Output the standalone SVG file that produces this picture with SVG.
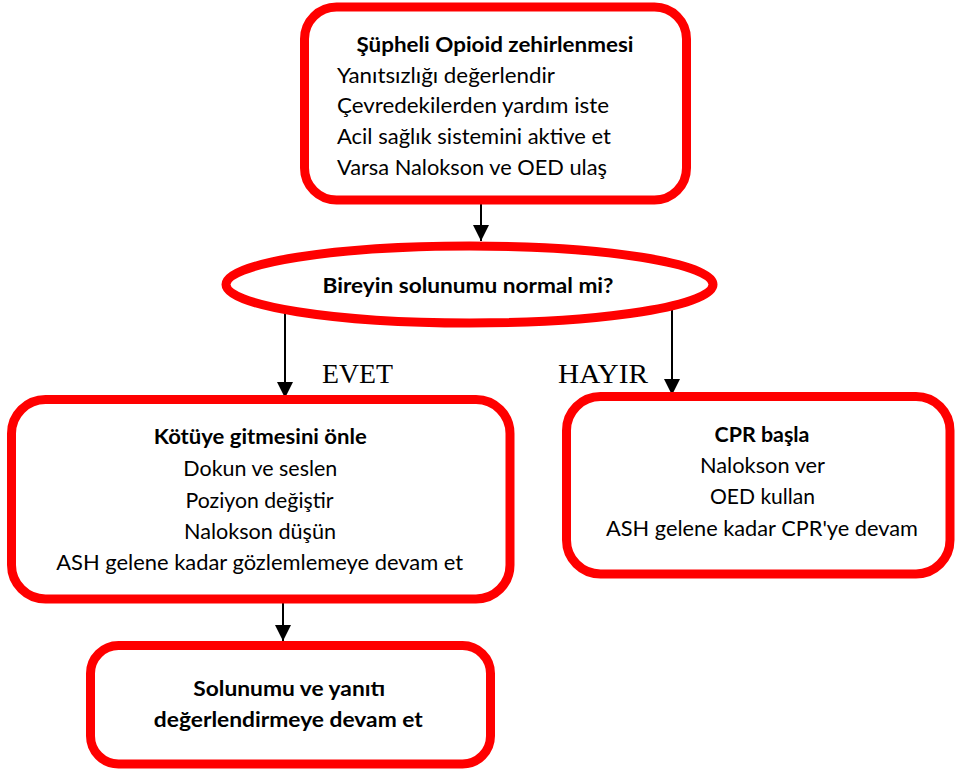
<svg xmlns="http://www.w3.org/2000/svg" width="955" height="769" viewBox="0 0 955 769">
<defs>
<style>
.box{fill:#fff;stroke:#ff0000;stroke-width:9}
.t{font-family:Lato,"Liberation Sans",Arial,sans-serif;font-size:21px;fill:#000}
.b{font-weight:bold}
.c{text-anchor:middle}
.lbl{font-family:"Liberation Serif","Times New Roman",serif;font-size:27px;fill:#000}
.ln{stroke:#000;stroke-width:2;fill:none}
</style>
<marker id="ah" markerUnits="userSpaceOnUse" markerWidth="16" markerHeight="16" refX="16" refY="8" orient="auto" viewBox="0 0 16 16">
<path d="M0,0 L16,8 L0,16 z" fill="#000"/>
</marker>
</defs>
<g id="connectors">
<line class="ln" x1="481" y1="204" x2="481" y2="241" marker-end="url(#ah)"/>
<line class="ln" x1="285" y1="308" x2="285" y2="398" marker-end="url(#ah)"/>
<line class="ln" x1="672" y1="306" x2="672" y2="395" marker-end="url(#ah)"/>
<line class="ln" x1="283" y1="603" x2="283" y2="641" marker-end="url(#ah)"/>
<text class="lbl" x="322" y="383" textLength="71" lengthAdjust="spacingAndGlyphs">EVET</text>
<text class="lbl" x="558" y="383" textLength="90" lengthAdjust="spacingAndGlyphs">HAYIR</text>
</g>
<g id="start">
<rect class="box" x="304.5" y="7" width="382" height="193" rx="32"/>
<text class="t b c" x="495" y="52" textLength="277" lengthAdjust="spacingAndGlyphs">Şüpheli Opioid zehirlenmesi</text>
<text class="t" x="337" y="83" textLength="218" lengthAdjust="spacingAndGlyphs">Yanıtsızlığı değerlendir</text>
<text class="t" x="337" y="113" textLength="272" lengthAdjust="spacingAndGlyphs">Çevredekilerden yardım iste</text>
<text class="t" x="337" y="144" textLength="274" lengthAdjust="spacingAndGlyphs">Acil sağlık sistemini aktive et</text>
<text class="t" x="337" y="175" textLength="270" lengthAdjust="spacingAndGlyphs">Varsa Nalokson ve OED ulaş</text>
</g>
<g id="decision">
<ellipse class="box" cx="469.5" cy="284.5" rx="243.5" ry="38.5" stroke-width="8"/>
<text class="t b c" x="468" y="293" textLength="291" lengthAdjust="spacingAndGlyphs">Bireyin solunumu normal mi?</text>
</g>
<g id="yes">
<rect class="box" x="11.5" y="399.5" width="498.5" height="199.5" rx="34"/>
<text class="t b c" x="260.3" y="444" textLength="213" lengthAdjust="spacingAndGlyphs">Kötüye gitmesini önle</text>
<text class="t c" x="260.3" y="475.5" textLength="154" lengthAdjust="spacingAndGlyphs">Dokun ve seslen</text>
<text class="t c" x="259.5" y="507.5" textLength="148" lengthAdjust="spacingAndGlyphs">Poziyon değiştir</text>
<text class="t c" x="260" y="538.5" textLength="152" lengthAdjust="spacingAndGlyphs">Nalokson düşün</text>
<text class="t c" x="259.7" y="569.5" textLength="407" lengthAdjust="spacingAndGlyphs">ASH gelene kadar gözlemlemeye devam et</text>
</g>
<g id="no">
<rect class="box" x="566.5" y="396.5" width="383.5" height="177.5" rx="34"/>
<text class="t b c" x="762" y="441.5" textLength="95" lengthAdjust="spacingAndGlyphs">CPR başla</text>
<text class="t c" x="762.5" y="473" textLength="125" lengthAdjust="spacingAndGlyphs">Nalokson ver</text>
<text class="t c" x="762.5" y="504" textLength="105" lengthAdjust="spacingAndGlyphs">OED kullan</text>
<text class="t c" x="762" y="535.5" textLength="312" lengthAdjust="spacingAndGlyphs">ASH gelene kadar CPR'ye devam</text>
</g>
<g id="continue">
<rect class="box" x="90.5" y="645.5" width="400" height="118.5" rx="28"/>
<text class="t b c" x="289.2" y="696" textLength="192" lengthAdjust="spacingAndGlyphs">Solunumu ve yanıtı</text>
<text class="t b c" x="288.3" y="727" textLength="269" lengthAdjust="spacingAndGlyphs">değerlendirmeye devam et</text>
</g>
</svg>
